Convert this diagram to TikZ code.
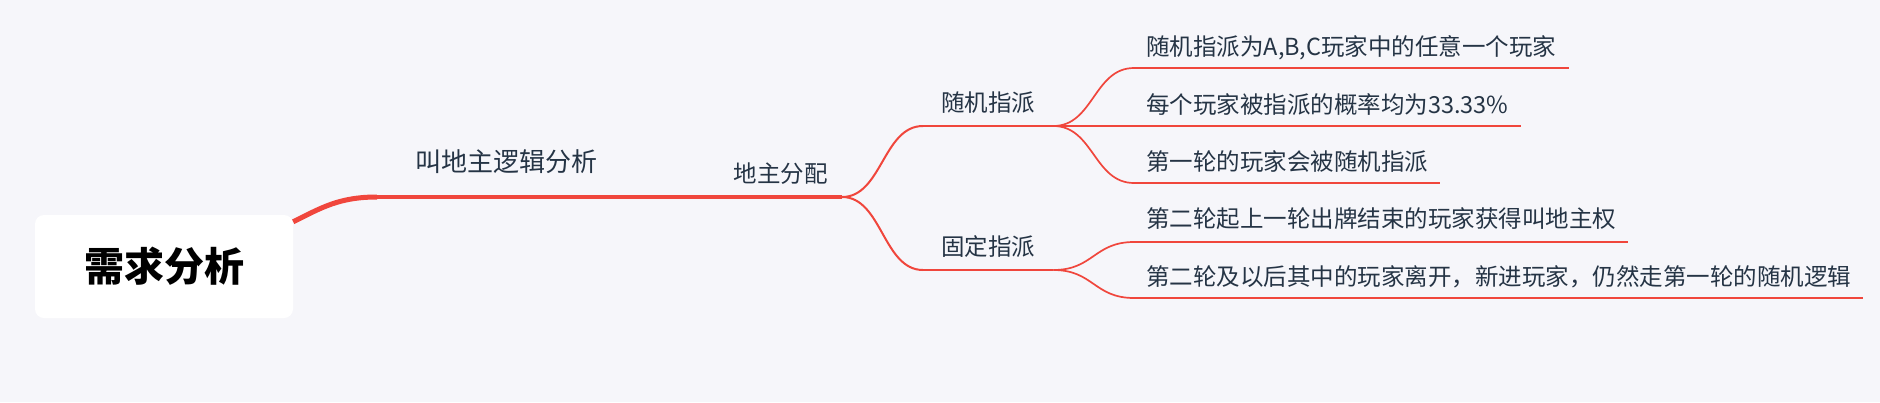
\documentclass[tikz,border=0pt]{standalone}
\usepackage{fontspec}
\newfontfamily\cjk{Noto Sans CJK SC}
\definecolor{bgcol}{HTML}{F6F6FA}
\definecolor{linecol}{HTML}{F0463C}
\definecolor{textcol}{HTML}{253445}
\begin{document}
\begin{tikzpicture}[x=1pt, y=-1pt,
  rootbox/.style={rectangle, rounded corners=9pt, fill=white, minimum width=258pt, minimum height=103pt,
    text=black, font=\cjk\bfseries\fontsize{40}{40}\selectfont},
  topic/.style={rectangle, inner ysep=0pt, text=textcol, text height=20.7pt, text depth=2.8pt,
    font=\cjk\fontsize{23.5}{23.5}\selectfont},
  maintopic/.style={topic, inner xsep=38pt, minimum height=70pt, text height=22.9pt, text depth=3.1pt,
    font=\cjk\fontsize{26}{26}\selectfont},
  subtopic/.style={topic, inner xsep=14pt, minimum height=46pt},
  leaf/.style={topic, inner xsep=12pt, minimum height=42pt},
  rootlink/.style={linecol, line width=5pt},
  mainline/.style={linecol, line width=3.2pt},
  branch/.style={linecol, line width=2pt},
  leafline/.style={linecol, line width=1.7pt}]

  % -- Background --
  \useasboundingbox (0,0) rectangle (1880,402);
  \fill[bgcol] (0,0) rectangle (1880,402);

  % -- Root --
  \node[rootbox] (root) at (164,266.5) {需求分析};

  % -- First level --
  \node[maintopic, anchor=south west] (logic) at (377,197) {叫地主逻辑分析};
  \node[subtopic, anchor=south east] (assign) at (842,197) {地主分配};

  % -- Second level --
  \node[subtopic, inner xsep=18pt, anchor=south west] (rand) at (923,126) {随机指派};
  \node[subtopic, inner xsep=18pt, anchor=south west] (fixed) at (923,270) {固定指派};

  % -- Leaves --
  \node[leaf, anchor=south west] (rand1) at (1134,68) {随机指派为A,B,C玩家中的任意一个玩家};
  \node[leaf, anchor=south west] (rand2) at (1134,126) {每个玩家被指派的概率均为33.33\%};
  \node[leaf, anchor=south west] (rand3) at (1134,183) {第一轮的玩家会被随机指派};
  \node[leaf, anchor=south west, minimum height=46pt] (fixed1) at (1134,242) {第二轮起上一轮出牌结束的玩家获得叫地主权};
  \node[leaf, anchor=south west] (fixed2) at (1134,298) {第二轮及以后其中的玩家离开，新进玩家，仍然走第一轮的随机逻辑};

  % -- Connectors --
  \draw[rootlink] ([yshift=-7pt]root.north east) .. controls +(28,-14) and +(-38,0) .. (logic.south west);
  \draw[mainline] (logic.south west) -- (logic.south east) -- (assign.south west) -- (assign.south east);
  \foreach \sub in {rand, fixed} {
    \draw[branch] (assign.south east) .. controls +(40,0) and +(-40,0) .. (\sub.south west);
    \draw[branch] (\sub.south west) -- (\sub.south east);
  }
  \foreach \leafnode in {rand1, rand3}
    \draw[leafline] (rand.south east) .. controls +(40,0) and +(-40,0) .. (\leafnode.south west);
  \draw[leafline] (rand.south east) -- (rand2.south west);
  \foreach \leafnode in {fixed1, fixed2}
    \draw[leafline] (fixed.south east) .. controls +(40,0) and +(-40,0) .. (\leafnode.south west);
  \foreach \leafnode in {rand1, rand2, rand3, fixed1, fixed2}
    \draw[leafline] (\leafnode.south west) -- (\leafnode.south east);

\end{tikzpicture}
\end{document}
